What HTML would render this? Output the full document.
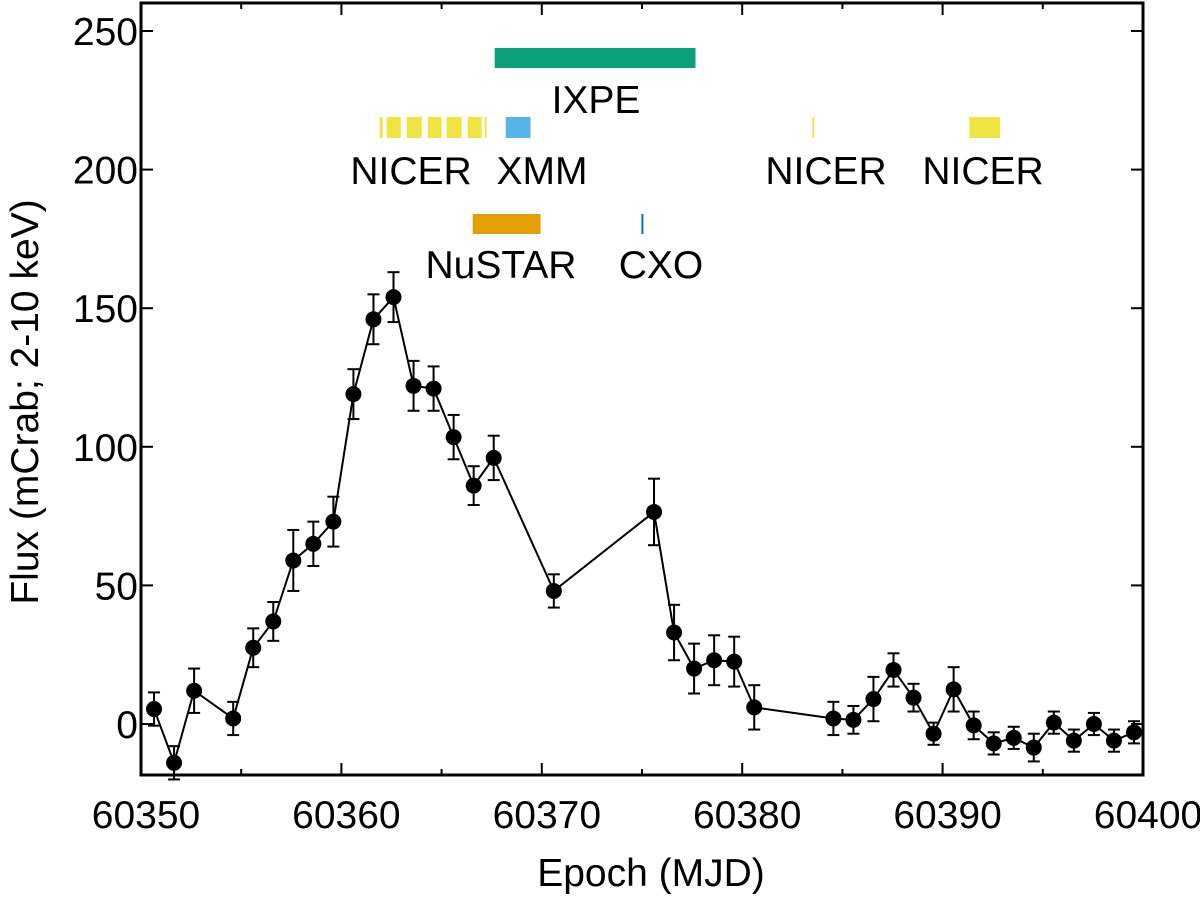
<!DOCTYPE html>
<html><head><meta charset="utf-8"><style>
body{margin:0;background:#fff}
svg text{font-family:"Liberation Sans",sans-serif;fill:#000}
</style></head><body>
<svg id="chart" width="1200" height="900">
<g id="bands"></g>
<g id="series"></g>
<g id="axes"></g>
</svg>
<script>
const mjd=[60350.65,60351.65,60352.65,60354.6,60355.6,60356.6,60357.6,60358.6,60359.6,60360.6,60361.6,60362.6,60363.6,60364.6,60365.6,60366.6,60367.6,60370.6,60375.6,60376.6,60377.6,60378.6,60379.6,60380.6,60384.55,60385.55,60386.55,60387.55,60388.55,60389.55,60390.55,60391.55,60392.55,60393.55,60394.55,60395.55,60396.55,60397.55,60398.55,60399.55];
const flux=[5.4,-14,12,2,27.5,37,59,65,73,119,146,154,122,121,103.5,86,96,48,76.5,33,20,23,22.5,6,2,1.5,9,19.5,9.5,-3.5,12.5,-0.5,-7,-5,-8.5,0.5,-6,0,-6,-3];
const ferr=[6,6,8,6,7,7,11,8,9,9,9,9,9,8,8,7,8,6,12,10,9,9,9,8,6,5,8,6,5,4,8,5,4,4,5,4,4,4,4,4];
const xTicks=[60350,60360,60370,60380,60390,60400];
const yTicks=[0,50,100,150,200,250];
const obsNames=["IXPE","NICER","NICER","NICER","NICER","NICER","NICER","NICER","XMM","NuSTAR","CXO","NICER","NICER"];
const obsStart=[60367.65,60361.91,60362.26,60363.26,60364.31,60365.25,60366.3,60367.15,60368.2,60366.55,60374.97,60383.5,60391.33];
const obsEnd=[60377.67,60362.06,60362.96,60364.01,60365.0,60366.0,60367.0,60367.25,60369.44,60369.94,60375.07,60383.6,60392.87];
const obsRow=[0,1,1,1,1,1,1,1,1,2,2,1,1];
const obsColor=["#0aa079","#f0e442","#f0e442","#f0e442","#f0e442","#f0e442","#f0e442","#f0e442","#56b4e9","#e69f00","#0072b2","#f0e442","#f0e442"];
const L=141,R=1143,T=3,B=775;
const X=v=>L+(v-60350)/50*(R-L);
const Y=v=>724-v*2.772;
const NS="http://www.w3.org/2000/svg";
function mk(p,tag,a){const e=document.createElementNS(NS,tag);for(const k in a)e.setAttribute(k,a[k]);p.appendChild(e);return e;}
const bands=document.getElementById('bands'),series=document.getElementById('series'),axes=document.getElementById('axes');
const rowY=[[48,68],[117,138],[214,234]];
for(let i=0;i<obsStart.length;i++){
  const r=mk(bands,'rect',{x:X(obsStart[i]),y:rowY[obsRow[i]][0],width:Math.max(1.5,X(obsEnd[i])-X(obsStart[i])),height:rowY[obsRow[i]][1]-rowY[obsRow[i]][0],fill:obsColor[i]});
  
  
}
const labels=[["IXPE",596,113],["NICER",411,184],["XMM",542,184],["NICER",826,184],["NICER",983,184],["NuSTAR",501,278],["CXO",661,278]];
labels.forEach(l=>{const t=mk(bands,'text',{x:l[1],y:l[2],'font-size':39,'text-anchor':'middle'});t.textContent=l[0];

});
const pts=mjd.map((m,i)=>X(m)+','+Y(flux[i])).join(' ');
const pl=mk(series,'polyline',{points:pts,fill:'none',stroke:'#000','stroke-width':2});


for(let i=0;i<mjd.length;i++){
  const x=X(mjd[i]),y1=Y(flux[i]-ferr[i]),y2=Y(flux[i]+ferr[i]);
  const g=mk(series,'g',{stroke:'#000','stroke-width':2});
  
  
  mk(g,'line',{x1:x,x2:x,y1:y1,y2:y2});
  mk(g,'line',{x1:x-6,x2:x+6,y1:y1,y2:y1});
  mk(g,'line',{x1:x-6,x2:x+6,y1:y2,y2:y2});
  const c=mk(series,'circle',{cx:x,cy:Y(flux[i]),r:8,fill:'#000'});
  
  
}
const fr=mk(axes,'rect',{x:L,y:T,width:R-L,height:B-T,fill:'none',stroke:'#000','stroke-width':3});


xTicks.forEach(v=>{const x=X(v);
  mk(axes,'line',{x1:x,x2:x,y1:B,y2:B-12,stroke:'#000','stroke-width':2});
  mk(axes,'line',{x1:x,x2:x,y1:T,y2:T+12,stroke:'#000','stroke-width':2});
  const t=mk(axes,'text',{x:x+5,y:828,'font-size':39,'text-anchor':'middle'});t.textContent=v;
  
  });
for(let v=60355;v<60400;v+=5){if(v%10===0)continue;const x=X(v);
  mk(axes,'line',{x1:x,x2:x,y1:B,y2:B-6,stroke:'#000','stroke-width':2});
  mk(axes,'line',{x1:x,x2:x,y1:T,y2:T+6,stroke:'#000','stroke-width':2});}
yTicks.forEach(v=>{const y=Y(v);
  mk(axes,'line',{x1:L,x2:L+12,y1:y,y2:y,stroke:'#000','stroke-width':2});
  mk(axes,'line',{x1:R,x2:R-12,y1:y,y2:y,stroke:'#000','stroke-width':2});
  const t=mk(axes,'text',{x:138,y:y+14,'font-size':39,'text-anchor':'end'});t.textContent=v;
  
  });
const xt=mk(axes,'text',{x:651,y:886,'font-size':39,'text-anchor':'middle'});xt.textContent='Epoch (MJD)';


const yt=mk(axes,'text',{x:0,y:0,'font-size':39,'text-anchor':'middle',transform:'translate(38,402) rotate(-90)'});yt.textContent='Flux (mCrab; 2-10 keV)';


</script>
</body></html>
